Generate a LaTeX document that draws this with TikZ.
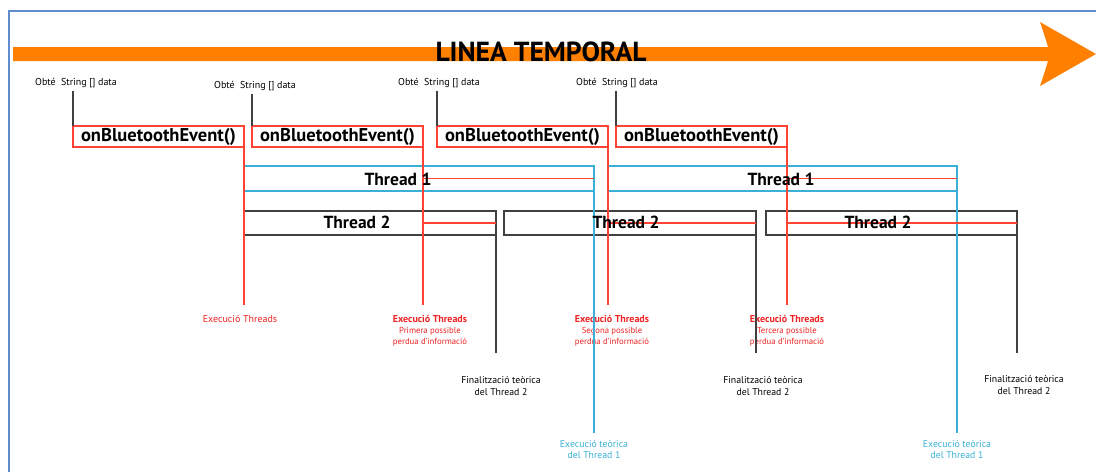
\documentclass[tikz,border=0pt]{standalone}
\usepackage{fontspec}
\setmainfont{PT Sans}
\definecolor{tlorange}{RGB}{255,128,0}
\definecolor{evred}{RGB}{255,66,52}
\definecolor{labred}{RGB}{238,34,34}
\definecolor{thblue}{RGB}{58,176,214}
\definecolor{thgray}{RGB}{64,64,64}
\definecolor{frameblue}{RGB}{96,140,206}
\begin{document}
\begin{tikzpicture}[x=1pt,y=-1pt,
  every node/.style={inner sep=0pt,outer sep=0pt},
  evbox/.style={draw=evred,line width=1.3pt,minimum width=171pt,minimum height=21pt,
    anchor=north east,font=\bfseries\fontsize{18.5}{19}\selectfont},
  tonebox/.style={draw=thblue,line width=1.3pt,minimum height=25pt,anchor=north west},
  ttwobox/.style={draw=thgray,line width=1.3pt,minimum height=24pt,anchor=north west},
  thtext/.style={font=\bfseries\fontsize{17.5}{18}\selectfont},
  obtlabel/.style={font=\fontsize{10}{11}\selectfont},
  exlabel/.style={text=labred,align=center,font=\fontsize{10}{11}\selectfont,anchor=north},
  finlabel/.style={align=center,font=\fontsize{9.8}{12}\selectfont,anchor=north},
  teolabel/.style={text=thblue,align=center,font=\fontsize{9.8}{11}\selectfont,anchor=north},
  redline/.style={draw=evred,line width=1.2pt},
  blueline/.style={draw=thblue,line width=1.3pt},
  grayline/.style={draw=thgray,line width=1.3pt},
  obtline/.style={draw=thgray,line width=1.4pt}]
\useasboundingbox (0,0) rectangle (1096,472);

% page frame
\draw[frameblue,line width=2pt] (9,472) -- (9,11) -- (1096,11);

% timeline arrow
\fill[tlorange] (13,47) -- (1048,47) .. controls (1045,37) .. (1040,22)
  -- (1096,54) -- (1040,86) .. controls (1045,71) .. (1048,61) -- (13,61) -- cycle;
\node[font=\bfseries\fontsize{27.6}{28}\selectfont] (title) at (541,52) {LINEA TEMPORAL};

% data labels
\node[obtlabel] (ob1) at (76,83) {Obté\ \ String [] data};
\node[obtlabel] (ob2) at (255,86) {Obté\ \ String [] data};
\node[obtlabel] (ob3) at (439,83) {Obté\ \ String [] data};
\node[obtlabel] (ob4) at (617,83) {Obté\ \ String [] data};

% event boxes
\node[evbox] (ev1) at (244,126) {onBluetoothEvent()};
\node[evbox] (ev2) at (423,126) {onBluetoothEvent()};
\node[evbox] (ev3) at (608,126) {onBluetoothEvent()};
\node[evbox] (ev4) at (787,126) {onBluetoothEvent()};

\foreach \i in {1,2,3,4}
  \draw[obtline] (ev\i.north west) -- ([yshift=-3pt]ev\i.north west |- ob\i.south);

% thread 1 boxes
\node[tonebox,minimum width=350pt] (t1a) at (244,166) {};
\node[tonebox,minimum width=349pt] (t1b) at (608,166) {};

% thread 2 boxes
\node[ttwobox,minimum width=252pt] (t2a) at (244,211) {};
\node[ttwobox,minimum width=252pt] (t2b) at (504,211) {};
\node[ttwobox,minimum width=251pt] (t2c) at (766,211) {};

% bottom labels
\node[exlabel] (ex1) at (240,315) {Execució Threads};
\node[exlabel] (ex2) at (430,315) {\textbf{Execució Threads}\\{\fontsize{8.7}{11}\selectfont Primera possible}\\{\fontsize{8.7}{11}\selectfont perdua d'informació}};
\node[exlabel] (ex3) at (612,315) {\textbf{Execució Threads}\\{\fontsize{8.7}{11}\selectfont Segona possible}\\{\fontsize{8.7}{11}\selectfont perdua d'informació}};
\node[exlabel] (ex4) at (787,315) {\textbf{Execució Threads}\\{\fontsize{8.7}{11}\selectfont Tercera possible}\\{\fontsize{8.7}{11}\selectfont perdua d'informació}};

\node[finlabel] (fin1) at (501,376) {Finalització teòrica\\del Thread 2};
\node[finlabel] (fin2) at (763,376) {Finalització teòrica\\del Thread 2};
\node[finlabel] (fin3) at (1024,375) {Finalització teòrica\\del Thread 2};

\node[teolabel] (teo1) at (594,440) {Execució teòrica\\del Thread 1};
\node[teolabel] (teo2) at (957,440) {Execució teòrica\\del Thread 1};

% end of thread 2
\draw[grayline] (t2a.south east) -- ([yshift=23pt]t2a.south east |- fin1.north);
\draw[grayline] (t2b.south east) -- ([yshift=23pt]t2b.south east |- fin2.north);
\draw[grayline] (t2c.south east) -- ([yshift=22pt]t2c.south east |- fin3.north);

% end of thread 1
\draw[blueline] (t1a.south east) -- ([yshift=7pt]t1a.south east |- teo1.north);
\draw[blueline] (t1b.south east) -- ([yshift=7pt]t1b.south east |- teo2.north);

% thread launches
\foreach \i in {1,2,3,4}
  \draw[redline] (ev\i.south east) -- ([yshift=10pt]ev\i.south east |- ex\i.north);
\draw[redline] (ev2.south east |- t1a.east) -- (t1a.east);
\draw[redline] (ev4.south east |- t1b.east) -- (t1b.east);
\draw[redline] (ev2.south east |- t2a.east) -- (t2a.east);
\draw[redline] (ev3.south east |- t2b.east) -- (t2b.east);
\draw[redline] (ev4.south east |- t2c.east) -- (t2c.east);

% thread titles
\node[thtext] (t1atxt) at (398,179) {Thread 1};
\node[thtext] (t1btxt) at (781,179) {Thread 1};
\node[thtext] (t2atxt) at (357,222) {Thread 2};
\node[thtext] (t2btxt) at (626,222) {Thread 2};
\node[thtext] (t2ctxt) at (878,222) {Thread 2};
\end{tikzpicture}
\end{document}
